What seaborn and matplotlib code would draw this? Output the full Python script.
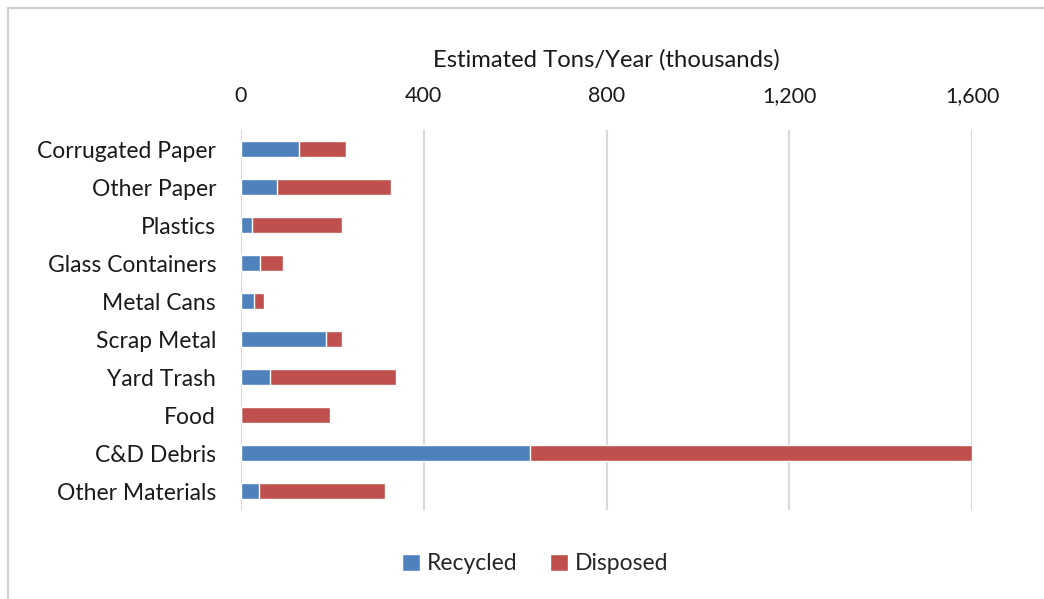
import matplotlib
matplotlib.use("Agg")
import matplotlib.pyplot as plt
from matplotlib.patches import Rectangle, Patch
import seaborn as sns
import pandas as pd

# Values (thousands of tons per year)
materials = ["Corrugated Paper", "Other Paper", "Plastics", "Glass Containers",
             "Metal Cans", "Scrap Metal", "Yard Trash", "Food", "C&D Debris",
             "Other Materials"]
recycled = [126, 78, 25, 42, 28, 186, 64, 0, 632, 40]
disposed = [104, 251, 197, 49, 22, 34, 276, 194, 968, 275]
x_ticks = [0, 400, 800, 1200, 1600]

blue = "#4F81BD"
red = "#C0504D"

df = pd.DataFrame({"material": materials, "recycled": recycled, "disposed": disposed})
df["total"] = df["recycled"] + df["disposed"]

sns.set_theme(style="white")
plt.rcParams["font.family"] = ["Lato", "DejaVu Sans"]

fig = plt.figure(figsize=(10.44, 5.99), dpi=100)
ax = fig.add_axes([241 / 1044, 1 - 510 / 599, (972 - 241) / 1044, 380 / 599])

# stacked bars: draw totals in red, recycled on top in blue
sns.barplot(data=df, x="total", y="material", color=red, width=0.4,
            saturation=1, ax=ax, zorder=3)
sns.barplot(data=df, x="recycled", y="material", color=blue, width=0.4,
            saturation=1, ax=ax, zorder=4)

ax.set_xlim(0, 1600)
ax.set_xticks(x_ticks)
ax.set_xticklabels([f"{v:,}" for v in x_ticks])
ax.xaxis.tick_top()
ax.xaxis.set_label_position("top")
ax.set_xlabel("Estimated Tons/Year (thousands)", fontsize=17.2, labelpad=14, color="#1a1a1a")
ax.set_ylabel("")
ax.tick_params(axis="x", length=0, pad=17, labelsize=15.5, colors="#1a1a1a")
ax.tick_params(axis="y", length=0, pad=18, labelsize=16.5, colors="#1a1a1a")
ax.grid(axis="x", color="#d9d9d9", linewidth=1.5, zorder=0)
ax.set_axisbelow(True)
for s in ax.spines.values():
    s.set_visible(False)

handles = [Patch(facecolor=blue, label="Recycled"), Patch(facecolor=red, label="Disposed")]
fig.legend(handles=handles, loc="center", bbox_to_anchor=(535 / 1044, 1 - 564 / 599),
           ncol=2, frameon=False, fontsize=16.5, handlelength=0.8, handleheight=0.8,
           handletextpad=0.3, columnspacing=1.4)

# chart-area frame (only top and left edges visible in the reference)
fig.patches.append(Rectangle((8 / 1044, -0.1), 1.2, 1 - 8 / 599 + 0.1,
                             transform=fig.transFigure, fill=False,
                             edgecolor="#d0d0d0", linewidth=1.5))

fig.savefig("out.png", dpi=100)
